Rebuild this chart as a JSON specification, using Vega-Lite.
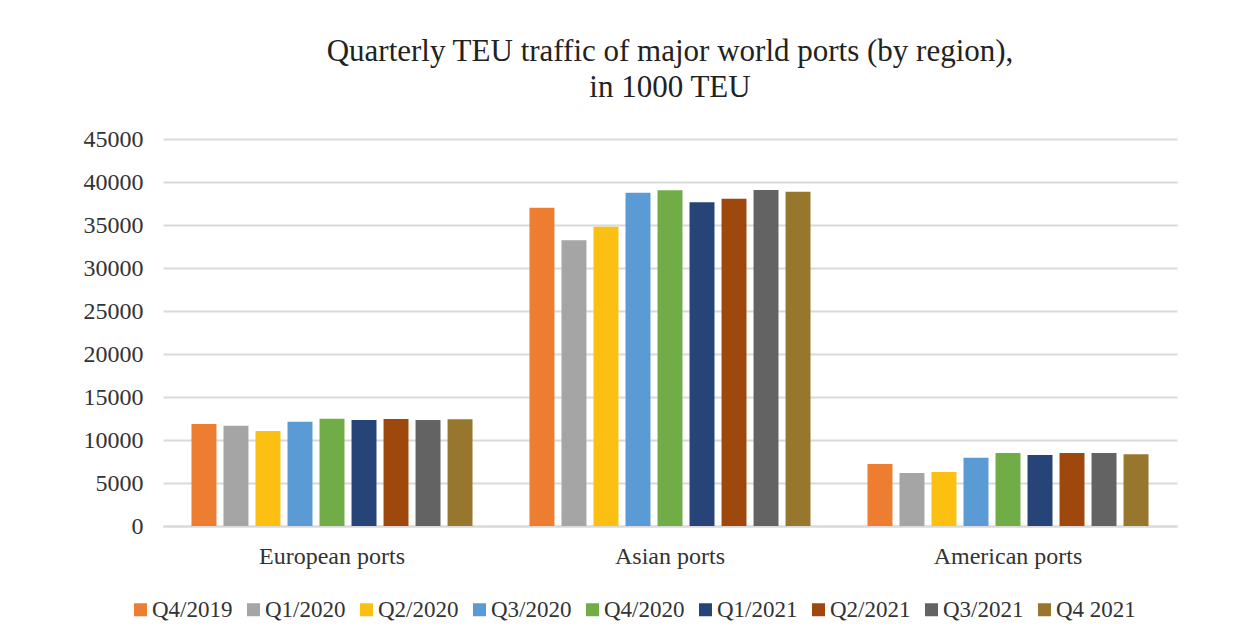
{
  "$schema": "https://vega.github.io/schema/vega-lite/v6.json",
  "autosize": {"type": "none"},
  "width": 1014,
  "height": 387,
  "padding": {"left": 163, "top": 139, "right": 72, "bottom": 116},
  "background": "white",
  "title": {
    "text": ["Quarterly TEU traffic of major world ports (by region),", "in 1000 TEU"],
    "anchor": "middle",
    "font": "Liberation Serif",
    "fontSize": 31,
    "fontWeight": "normal",
    "color": "#222222",
    "lineHeight": 36,
    "offset": 23
  },
  "data": {
    "values": [
      {"region": "European ports", "quarter": "Q4/2019", "teu": 11860},
      {"region": "European ports", "quarter": "Q1/2020", "teu": 11660},
      {"region": "European ports", "quarter": "Q2/2020", "teu": 11050},
      {"region": "European ports", "quarter": "Q3/2020", "teu": 12130},
      {"region": "European ports", "quarter": "Q4/2020", "teu": 12480},
      {"region": "European ports", "quarter": "Q1/2021", "teu": 12330},
      {"region": "European ports", "quarter": "Q2/2021", "teu": 12440},
      {"region": "European ports", "quarter": "Q3/2021", "teu": 12330},
      {"region": "European ports", "quarter": "Q4 2021", "teu": 12400},
      {"region": "Asian ports", "quarter": "Q4/2019", "teu": 37010},
      {"region": "Asian ports", "quarter": "Q1/2020", "teu": 33220},
      {"region": "Asian ports", "quarter": "Q2/2020", "teu": 34800},
      {"region": "Asian ports", "quarter": "Q3/2020", "teu": 38760},
      {"region": "Asian ports", "quarter": "Q4/2020", "teu": 39030},
      {"region": "Asian ports", "quarter": "Q1/2021", "teu": 37640},
      {"region": "Asian ports", "quarter": "Q2/2021", "teu": 38060},
      {"region": "Asian ports", "quarter": "Q3/2021", "teu": 39070},
      {"region": "Asian ports", "quarter": "Q4 2021", "teu": 38870},
      {"region": "American ports", "quarter": "Q4/2019", "teu": 7210},
      {"region": "American ports", "quarter": "Q1/2020", "teu": 6160},
      {"region": "American ports", "quarter": "Q2/2020", "teu": 6280},
      {"region": "American ports", "quarter": "Q3/2020", "teu": 7940},
      {"region": "American ports", "quarter": "Q4/2020", "teu": 8490},
      {"region": "American ports", "quarter": "Q1/2021", "teu": 8260},
      {"region": "American ports", "quarter": "Q2/2021", "teu": 8490},
      {"region": "American ports", "quarter": "Q3/2021", "teu": 8490},
      {"region": "American ports", "quarter": "Q4 2021", "teu": 8330}
    ]
  },
  "mark": {"type": "bar"},
  "encoding": {
    "x": {
      "field": "region",
      "type": "nominal",
      "sort": ["European ports", "Asian ports", "American ports"],
      "scale": {"paddingInner": 0, "paddingOuter": 0},
      "axis": {
        "title": null,
        "labelAngle": 0,
        "labelFont": "Liberation Serif",
        "labelFontSize": 24,
        "labelColor": "#333333",
        "labelPadding": 18,
        "ticks": false,
        "domainColor": "#d9d9d9",
        "domainWidth": 2
      }
    },
    "xOffset": {
      "field": "quarter",
      "type": "nominal",
      "sort": ["Q4/2019", "Q1/2020", "Q2/2020", "Q3/2020", "Q4/2020", "Q1/2021", "Q2/2021", "Q3/2021", "Q4 2021"],
      "scale": {"paddingInner": 0.22, "paddingOuter": 0.89}
    },
    "y": {
      "field": "teu",
      "type": "quantitative",
      "scale": {"domain": [0, 45000]},
      "axis": {
        "title": null,
        "values": [0, 5000, 10000, 15000, 20000, 25000, 30000, 35000, 40000, 45000],
        "format": "d",
        "labelFont": "Liberation Serif",
        "labelFontSize": 24,
        "labelColor": "#333333",
        "labelPadding": 20,
        "ticks": false,
        "domain": false,
        "gridColor": "#d9d9d9",
        "gridWidth": 2
      }
    },
    "color": {
      "field": "quarter",
      "type": "nominal",
      "sort": ["Q4/2019", "Q1/2020", "Q2/2020", "Q3/2020", "Q4/2020", "Q1/2021", "Q2/2021", "Q3/2021", "Q4 2021"],
      "scale": {
        "domain": ["Q4/2019", "Q1/2020", "Q2/2020", "Q3/2020", "Q4/2020", "Q1/2021", "Q2/2021", "Q3/2021", "Q4 2021"],
        "range": ["#ED7D31", "#A5A5A5", "#FBC012", "#5B9BD5", "#70AD47", "#264478", "#9E480E", "#636363", "#97772D"]
      },
      "legend": {
        "title": null,
        "orient": "none",
        "legendX": -34,
        "legendY": 459,
        "direction": "horizontal",
        "columns": 9,
        "symbolType": "square",
        "symbolSize": 169,
        "symbolStrokeWidth": 0,
        "labelFont": "Liberation Serif",
        "labelFontSize": 23,
        "labelColor": "#333333",
        "labelOffset": 0,
        "columnPadding": 9,
        "labelLimit": 200
      }
    }
  },
  "config": {"view": {"stroke": null}}
}
